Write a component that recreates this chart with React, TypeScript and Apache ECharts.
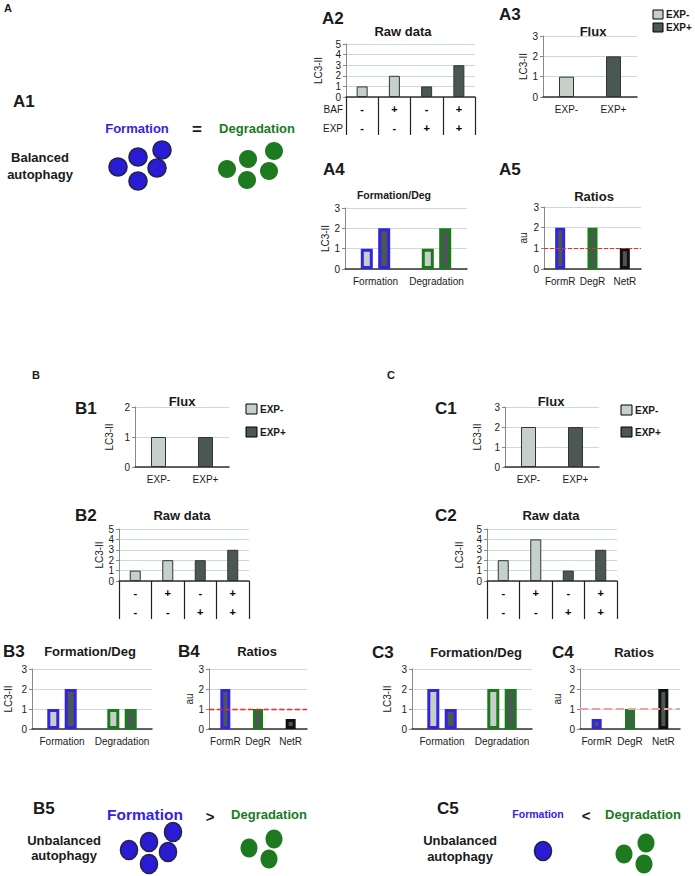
import React, { useEffect, useRef } from "react";
import * as echarts from "echarts";

// ---------- DATA ----------
const rawCategories = ["1", "2", "3", "4"];
const rawRowBAF = ["-", "+", "-", "+"];
const rawRowEXP = ["-", "-", "+", "+"];
const rawGroup = ["EXP-", "EXP-", "EXP+", "EXP+"];
const rawA2 = [1, 2, 1, 3];
const rawB2 = [1, 2, 2, 3];
const rawC2 = [2, 4, 1, 3];

const fluxCategories = ["EXP-", "EXP+"];
const fluxA3 = [1, 2];
const fluxB1 = [1, 1];
const fluxC1 = [2, 2];

const fdCategories = ["Formation", "Degradation"];
const fdA4Minus = [1, 1];
const fdA4Plus = [2, 2];
const fdB3Minus = [1, 1];
const fdB3Plus = [2, 1];
const fdC3Minus = [2, 2];
const fdC3Plus = [1, 2];

const ratioCategories = ["FormR", "DegR", "NetR"];
const ratioA5 = [2, 2, 1];
const ratioB4 = [2, 1, 0.5];
const ratioC4 = [0.5, 1, 2];
const ratioReference = 1;

const legendNames = ["EXP-", "EXP+"];

// ---------- STYLE ----------
const FONT = '"Liberation Sans", Arial, Helvetica, sans-serif';
const LIGHT = "#c5d0cb";
const DARK = "#4b5755";
const BLUE = "#3424e0";
const GREEN = "#1b7a1b";
const BLACK = "#111111";
const GRIDC = "#c9ddd6";
const TXT = "#1a1a1a";
const BLUE_FILL = "#2a1cd4";
const BLUE_STROKE = "#23234a";
const GREEN_FILL = "#1e7a1e";

type G = { left: number; top: number; width: number; height: number };

export default function App() {
  const ref = useRef<HTMLDivElement>(null);

  useEffect(() => {
    if (!ref.current) return;
    const chart = echarts.init(ref.current, undefined, { renderer: "svg" });

    const grids: any[] = [];
    const xAxes: any[] = [];
    const yAxes: any[] = [];
    const series: any[] = [];

    const addGrid = (g: G) => {
      grids.push({ ...g, containLabel: false });
      return grids.length - 1;
    };

    const yAxis = (gi: number, max: number, name: string, nameGap: number) => ({
      type: "value",
      gridIndex: gi,
      min: 0,
      max,
      interval: 1,
      name,
      nameLocation: "middle",
      nameGap,
      nameTextStyle: { fontSize: 10, color: TXT, fontFamily: FONT },
      axisLine: { show: true, lineStyle: { color: "#8a8a8a", width: 1 } },
      axisTick: { show: true, length: 3, lineStyle: { color: "#8a8a8a" } },
      axisLabel: { fontSize: 10, color: TXT, fontFamily: FONT, margin: 5 },
      splitLine: { show: true, lineStyle: { color: GRIDC, width: 1 } },
    });

    const xAxis = (gi: number, cats: string[]) => ({
      type: "category",
      gridIndex: gi,
      data: cats,
      axisLine: { show: true, lineStyle: { color: "#333", width: 1.5 } },
      axisTick: { show: false },
      axisLabel: { fontSize: 10, color: TXT, fontFamily: FONT, margin: 7, interval: 0 },
    });

    const rawChart = (g: G, values: number[], nameGap: number) => {
      const gi = addGrid(g);
      yAxes.push(yAxis(gi, 5, "LC3-II", nameGap));
      xAxes.push({
        type: "category",
        gridIndex: gi,
        data: rawCategories,
        axisLine: { show: true, lineStyle: { color: "#333", width: 1.5 } },
        axisTick: { show: true, length: 38, interval: 0, lineStyle: { color: "#222", width: 1.2 } },
        axisLabel: {
          interval: 0,
          margin: 2,
          fontSize: 11,
          fontWeight: "bold",
          lineHeight: 19,
          color: "#000",
          fontFamily: FONT,
          formatter: (_v: string, i: number) => `${rawRowBAF[i]}\n${rawRowEXP[i]}`,
        },
      });
      series.push({
        type: "bar",
        xAxisIndex: gi,
        yAxisIndex: gi,
        barWidth: 11,
        itemStyle: { borderColor: "#333", borderWidth: 1 },
        data: values.map((v, i) => ({
          value: v,
          itemStyle: { color: rawGroup[i] === "EXP-" ? LIGHT : DARK },
        })),
      });
    };

    const fluxChart = (g: G, values: number[], max: number, nameGap: number) => {
      const gi = addGrid(g);
      yAxes.push(yAxis(gi, max, "LC3-II", nameGap));
      xAxes.push(xAxis(gi, fluxCategories));
      series.push({
        type: "bar",
        xAxisIndex: gi,
        yAxisIndex: gi,
        barWidth: 15,
        itemStyle: { borderColor: "#333", borderWidth: 1 },
        data: values.map((v, i) => ({
          value: v,
          itemStyle: { color: i === 0 ? LIGHT : DARK },
        })),
      });
    };

    const fdBorders = [BLUE, GREEN];
    const fdChart = (g: G, minus: number[], plus: number[], nameGap: number) => {
      const gi = addGrid(g);
      yAxes.push(yAxis(gi, 3, "LC3-II", nameGap));
      xAxes.push(xAxis(gi, fdCategories));
      [minus, plus].forEach((vals, s) => {
        series.push({
          type: "bar",
          name: legendNames[s],
          xAxisIndex: gi,
          yAxisIndex: gi,
          barWidth: 12,
          barGap: "45%",
          data: vals.map((v, i) => ({
            value: v,
            itemStyle: { color: s === 0 ? LIGHT : DARK, borderColor: fdBorders[i], borderWidth: 3 },
          })),
        });
      });
    };

    const ratioBorders = [BLUE, GREEN, BLACK];
    const ratioChart = (g: G, values: number[], nameGap: number, lineColor: string, lineWidth: number) => {
      const gi = addGrid(g);
      yAxes.push(yAxis(gi, 3, "au", nameGap));
      xAxes.push(xAxis(gi, ratioCategories));
      series.push({
        type: "bar",
        xAxisIndex: gi,
        yAxisIndex: gi,
        barWidth: 10,
        data: values.map((v, i) => ({
          value: v,
          itemStyle: { color: DARK, borderColor: ratioBorders[i], borderWidth: 3 },
        })),
        markLine: {
          silent: true,
          symbol: "none",
          label: { show: false },
          lineStyle: { color: lineColor, type: "dashed", width: lineWidth, opacity: 1 },
          emphasis: { disabled: true },
          data: [{ yAxis: ratioReference, lineStyle: { color: lineColor } }],
        },
      });
    };

    // Section A
    rawChart({ left: 346, top: 44, width: 129, height: 53 }, rawA2, 23);
    fluxChart({ left: 543, top: 36, width: 94, height: 61 }, fluxA3, 3, 15);
    fdChart({ left: 345, top: 208, width: 122, height: 61 }, fdA4Minus, fdA4Plus, 14);
    ratioChart({ left: 544, top: 207, width: 97, height: 62 }, ratioA5, 16, "#e53030", 1);
    // Section B
    fluxChart({ left: 135, top: 407, width: 94, height: 60 }, fluxB1, 2, 21);
    rawChart({ left: 119, top: 529, width: 130, height: 52 }, rawB2, 14);
    fdChart({ left: 32, top: 669, width: 120, height: 60 }, fdB3Minus, fdB3Plus, 19);
    ratioChart({ left: 209, top: 669, width: 98, height: 60 }, ratioB4, 15, "#e82a2a", 1.3);
    // Section C
    fluxChart({ left: 505, top: 407, width: 94, height: 60 }, fluxC1, 3, 23);
    rawChart({ left: 487, top: 529, width: 130, height: 52 }, rawC2, 23);
    fdChart({ left: 412, top: 669, width: 120, height: 60 }, fdC3Minus, fdC3Plus, 20);
    ratioChart({ left: 580, top: 669, width: 100, height: 60 }, ratioC4, 18, "#f2a0a0", 2);

    // ---------- graphic texts & diagrams ----------
    const els: any[] = [];
    const txt = (
      x: number,
      y: number,
      text: string,
      size: number,
      bold = true,
      color = TXT,
      align = "left"
    ) =>
      els.push({
        type: "text",
        x,
        y,
        silent: true,
        style: {
          text,
          fill: color,
          fontSize: size,
          fontWeight: bold ? "bold" : "normal",
          fontFamily: FONT,
          textAlign: align,
          textVerticalAlign: "middle",
        },
      });

    // Section letters
    txt(4, 8, "A", 11);
    txt(32, 375, "B", 11);
    txt(387, 375, "C", 11);

    // Panel labels
    const panelLabels: [string, number, number][] = [
      ["A1", 13, 101],
      ["A2", 322, 18],
      ["A3", 499, 14],
      ["A4", 323, 169],
      ["A5", 499, 169],
      ["B1", 75, 408],
      ["B2", 75, 515],
      ["B3", 3, 651],
      ["B4", 178, 651],
      ["C1", 435, 408],
      ["C2", 435, 515],
      ["C3", 372, 652],
      ["C4", 552, 652],
      ["B5", 33, 808],
      ["C5", 437, 808],
    ];
    panelLabels.forEach(([t, x, y]) => txt(x, y, t, 17));

    // Chart titles
    const titles: [string, number, number, number][] = [
      ["Raw data", 403, 31, 13],
      ["Flux", 593, 31, 13],
      ["Formation/Deg", 394, 195, 10.5],
      ["Ratios", 594, 196, 13],
      ["Flux", 182, 401, 13],
      ["Raw data", 182, 515, 13],
      ["Formation/Deg", 90, 651, 13],
      ["Ratios", 257, 651, 13],
      ["Flux", 551, 401, 13],
      ["Raw data", 551, 515, 13],
      ["Formation/Deg", 476, 652, 13],
      ["Ratios", 634, 652, 13],
    ];
    titles.forEach(([t, x, y, s]) => txt(x, y, t, s, true, TXT, "center"));

    // Row names of A2 table
    txt(343, 109, "BAF", 10, false, TXT, "right");
    txt(343, 128, "EXP", 10, false, TXT, "right");

    // Legends
    const legend = (x: number, y: number, gap: number, w: number, h: number) => {
      legendNames.forEach((n, i) => {
        els.push({
          type: "rect",
          silent: true,
          shape: { x, y: y + i * gap, width: w, height: h },
          style: { fill: i === 0 ? LIGHT : DARK, stroke: "#000", lineWidth: 1 },
        });
        txt(x + w + 3, y + i * gap + h / 2, n, 10);
      });
    };
    legend(653, 10, 13, 10, 9);
    legend(246, 404, 23, 11, 10);
    legend(621, 405, 22, 11, 10);

    // A1 diagram
    txt(137, 128, "Formation", 13, true, BLUE, "center");
    txt(197, 129, "=", 17, true, TXT, "center");
    txt(257, 128, "Degradation", 13, true, GREEN, "center");
    txt(40, 157, "Balanced", 13, true, TXT, "center");
    txt(40, 174, "autophagy", 13, true, TXT, "center");

    const blueDot = (cx: number, cy: number, rx: number, ry: number) =>
      els.push({
        type: "ellipse",
        silent: true,
        shape: { cx, cy, rx, ry },
        style: { fill: BLUE_FILL, stroke: BLUE_STROKE, lineWidth: 1.6 },
      });
    const greenDot = (cx: number, cy: number, rx: number, ry: number) =>
      els.push({
        type: "ellipse",
        silent: true,
        shape: { cx, cy, rx, ry },
        style: { fill: GREEN_FILL },
      });

    [[118, 167], [138, 157], [162, 150], [157, 168], [138, 181]].forEach(([x, y]) => blueDot(x, y, 9, 9));
    [[227, 169], [248, 159], [274, 151], [269, 171], [247, 180]].forEach(([x, y]) => greenDot(x, y, 9, 9));

    // B5 diagram
    txt(145, 814, "Formation", 15.5, true, BLUE, "center");
    txt(210, 816, ">", 15, true, TXT, "center");
    txt(269, 814, "Degradation", 13, true, GREEN, "center");
    txt(64, 840, "Unbalanced", 13, true, TXT, "center");
    txt(64, 855, "autophagy", 13, true, TXT, "center");
    [[129, 850], [149, 842], [173, 832], [168, 852], [149, 864]].forEach(([x, y]) => blueDot(x, y, 8.5, 9.5));
    [[249, 848], [274, 839], [269, 859]].forEach(([x, y]) => greenDot(x, y, 8.5, 9.5));

    // C5 diagram
    txt(538, 814, "Formation", 10.5, true, BLUE, "center");
    txt(586, 815, "<", 15, true, TXT, "center");
    txt(643, 814, "Degradation", 13, true, GREEN, "center");
    txt(460, 840, "Unbalanced", 13, true, TXT, "center");
    txt(460, 856, "autophagy", 13, true, TXT, "center");
    blueDot(543, 851, 8.5, 9.5);
    [[624, 854], [646, 843], [644, 864]].forEach(([x, y]) => greenDot(x, y, 8.5, 9.5));

    chart.setOption({
      animation: false,
      backgroundColor: "#ffffff",
      textStyle: { fontFamily: FONT },
      grid: grids,
      xAxis: xAxes,
      yAxis: yAxes,
      series,
      graphic: { elements: els },
    });

    return () => chart.dispose();
  }, []);

  return (
    <div
      ref={ref}
      style={{ position: "absolute", left: 0, top: 0, width: 695, height: 876, background: "#fff" }}
    />
  );
}
